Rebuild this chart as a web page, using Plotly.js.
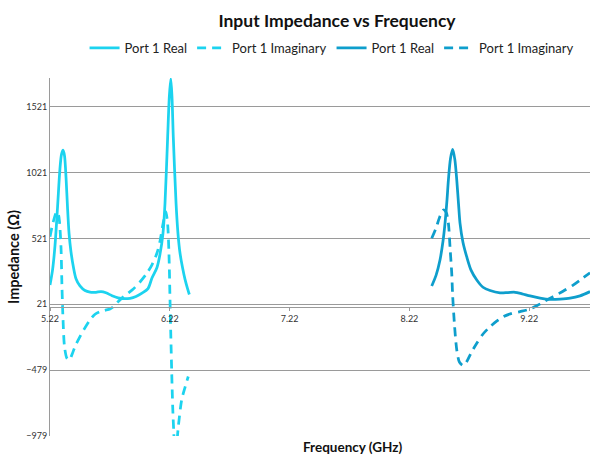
<!DOCTYPE html>
<html>
<head>
<meta charset="utf-8">
<script src="https://cdn.plot.ly/plotly-3.0.1.min.js"></script>
<style>html,body{margin:0;padding:0;background:#fff;}#chart{width:590px;height:456px;}</style>
</head>
<body>
<div id="chart"></div>
<script>
// Port 1 Real (first, light)
const freqA = [5.220,5.241,5.262,5.283,5.303,5.316,5.329,5.341,5.354,5.366,5.379,5.395,5.416,5.437,5.470,5.512,5.554,5.604,5.646,5.687,5.738,5.788,5.838,5.888,5.938,5.988,6.038,6.071,6.113,6.138,6.163,6.180,6.202,6.216,6.228,6.238,6.249,6.272,6.288,6.305,6.326,6.347,6.368,6.383];
const realA = [167,280,470,760,1050,1160,1192,1150,980,760,560,420,300,215,160,125,113,112,117,108,86,70,63,66,80,105,140,220,300,400,560,790,1293,1600,1735,1600,1293,790,560,410,300,210,140,95];
// Port 1 Imaginary (first, light)
const freqB = [5.220,5.245,5.276,5.291,5.299,5.312,5.320,5.329,5.341,5.362,5.383,5.404,5.429,5.456,5.504,5.554,5.596,5.637,5.679,5.721,5.746,5.788,5.829,5.871,5.913,5.971,6.030,6.071,6.113,6.138,6.159,6.186,6.201,6.213,6.223,6.228,6.236,6.244,6.253,6.263,6.276,6.291,6.319,6.347,6.374];
const imagB = [534,640,724,700,650,450,150,-100,-300,-390,-402,-360,-300,-250,-170,-98,-55,-35,-25,-15,0,40,75,105,135,190,258,320,410,500,610,724,640,400,0,-200,-500,-756,-950,-1100,-1050,-908,-705,-610,-528];
// Port 1 Real (second, dark)
const freqC = [8.406,8.442,8.475,8.500,8.517,8.534,8.545,8.563,8.581,8.599,8.615,8.630,8.642,8.667,8.698,8.734,8.782,8.834,8.893,8.976,9.043,9.101,9.160,9.227,9.310,9.394,9.477,9.561,9.644,9.727];
const realC = [160,240,357,500,638,820,964,1130,1197,1120,964,780,638,490,382,280,205,150,125,108,110,112,100,84,68,58,60,67,85,117];
// Port 1 Imaginary (second, dark)
const freqD = [8.406,8.442,8.475,8.503,8.526,8.545,8.559,8.573,8.580,8.595,8.615,8.638,8.670,8.701,8.734,8.782,8.834,8.893,8.951,9.004,9.068,9.143,9.210,9.283,9.352,9.419,9.502,9.586,9.652,9.727];
const imagD = [522,600,690,737,720,636,450,256,100,-123,-326,-420,-445,-410,-350,-275,-205,-149,-105,-73,-50,-35,-20,10,45,79,120,167,210,260];

const seriesNames = ['Port 1 Real','Port 1 Imaginary','Port 1 Real','Port 1 Imaginary'];
const xTick0 = 5.22, yTick0 = 21;

const light = '#1CD3EF', dark = '#0E9ECC';
const lw = 2.75;
const dashPat = '9px,6px';
const sm = 0.8;

const traces = [
  {x: freqA, y: realA, name: seriesNames[0], mode:'lines', line:{color: light, width: lw, shape:'spline', smoothing: sm}},
  {x: freqB, y: imagB, name: seriesNames[1], mode:'lines', line:{color: light, width: lw, dash: dashPat, shape:'spline', smoothing: sm}},
  {x: freqC, y: realC, name: seriesNames[2], mode:'lines', line:{color: dark, width: lw, shape:'spline', smoothing: sm}},
  {x: freqD, y: imagD, name: seriesNames[3], mode:'lines', line:{color: dark, width: lw, dash: dashPat, shape:'spline', smoothing: sm}}
];

const yMin = -980, yMax = 1740;
const F = 'Lato, "Open Sans", sans-serif';

const layout = {
  width: 590, height: 456,
  margin: {l: 50, r: 0, t: 78, b: 20},
  paper_bgcolor: '#fff', plot_bgcolor: '#fff',
  font: {family: F, color: '#333'},
  title: {text: '<b>Input Impedance vs Frequency</b>', font: {family: F, size: 17.5, color: '#111'},
          xref: 'container', yref: 'container', x: 337/590, xanchor: 'center', y: 1 - 21/456, yanchor: 'middle'},
  showlegend: true,
  legend: {orientation: 'h', x: 0.064, xanchor: 'left', y: 1.084, yanchor: 'middle',
           font: {family: F, size: 13, color: '#222'}, bgcolor: 'rgba(0,0,0,0)', itemwidth: 30},
  xaxis: {
    range: [5.22, 9.727], tick0: xTick0, dtick: 1, tickformat: '.2f',
    anchor: 'free', position: (0 - yMin) / (yMax - yMin),
    showline: true, linecolor: '#9a9a9a', linewidth: 1,
    showgrid: false, zeroline: false,
    ticks: 'outside', ticklen: 3, tickcolor: '#9a9a9a',
    tickfont: {family: F, size: 9, color: '#333'}
  },
  yaxis: {
    range: [yMin, yMax], tick0: yTick0, dtick: 500,
    showline: true, linecolor: '#9a9a9a', linewidth: 1,
    showgrid: true, gridcolor: '#9a9a9a', gridwidth: 1, zeroline: false,
    ticks: '', tickfont: {family: F, size: 9, color: '#333'},
    title: {text: '<b>Impedance (Ω)</b>', font: {family: F, size: 14.5, color: '#111'}, standoff: 3}
  },
  annotations: [
    {text: '<b>Frequency (GHz)</b>', xref: 'paper', yref: 'paper', x: (353-50)/540, y: (436-447)/358,
     xanchor: 'center', yanchor: 'middle', showarrow: false, font: {family: F, size: 13.5, color: '#111'}}
  ]
};

Plotly.newPlot('chart', traces, layout, {displayModeBar: false, staticPlot: true});
</script>
</body>
</html>
